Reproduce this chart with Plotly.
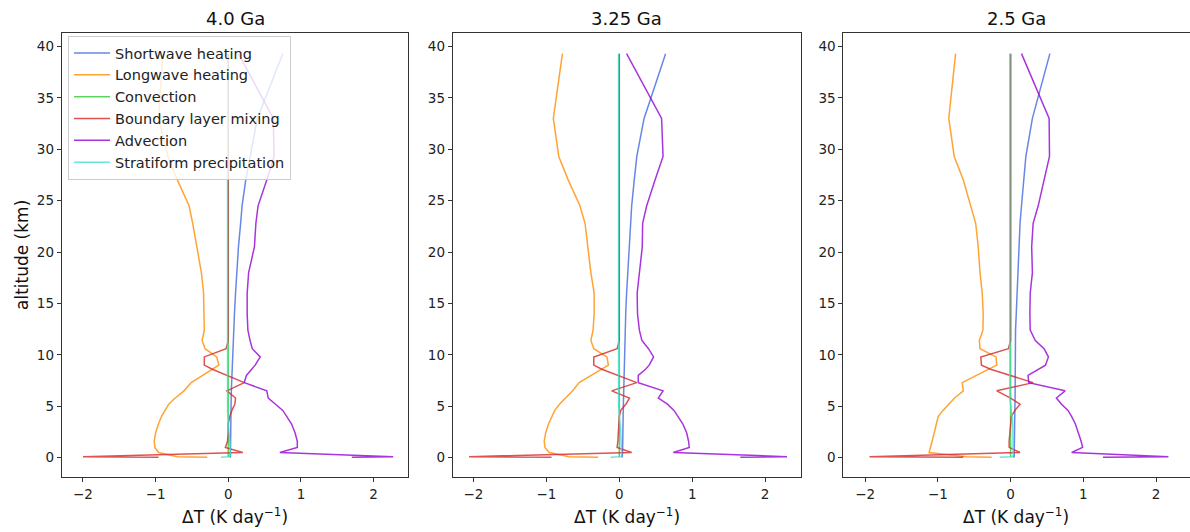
import plotly.graph_objects as go

# ---------------- data ----------------
altitude_km = [0.03, 0.1, 0.5, 1.0, 1.6, 2.4, 3.3, 4.0, 4.6, 5.2, 5.8, 6.5, 7.3, 8.0, 8.6,
               9.0, 9.8, 10.6, 11.4, 12.4, 14.0, 16.0, 18.0, 20.5, 22.8, 24.5, 27.0, 29.3,
               33.0, 39.3]

panel_titles = ["4.0 Ga", "3.25 Ga", "2.5 Ga"]
series_names = ["Shortwave heating", "Longwave heating", "Convection",
                "Boundary layer mixing", "Advection", "Stratiform precipitation"]

# 4.0 Ga
sw_40 = [0.02, 0.03, 0.03, 0.03, 0.03, 0.03, 0.032, 0.034, 0.036, 0.038, 0.04, 0.042, 0.046, 0.05,
         0.053, 0.055, 0.06, 0.064, 0.068, 0.073, 0.085, 0.10, 0.115, 0.14, 0.17, 0.19, 0.24,
         0.30, 0.40, 0.75]
lw_40 = [-0.29, -0.70, -0.96, -1.01, -1.02, -1.00, -0.96, -0.92, -0.87, -0.82, -0.73, -0.61,
         -0.51, -0.36, -0.22, -0.13, -0.16, -0.32, -0.36, -0.33, -0.335, -0.34, -0.37, -0.43,
         -0.49, -0.54, -0.70, -0.83, -0.96, -0.90]
conv_40 = [0.0] * 30
bl_40 = [-0.96, -2.00, 0.20, -0.04, -0.01, 0.0, 0.0, 0.02, 0.05, 0.09, 0.10, -0.02, 0.22, -0.03,
         -0.22, -0.33, -0.33, -0.03, 0.0, 0.0, 0.0, 0.0, 0.0, 0.0, 0.0, 0.0, 0.0, 0.0, 0.0, 0.0]
adv_40 = [1.70, 2.27, 0.71, 0.95, 0.95, 0.92, 0.87, 0.81, 0.75, 0.65, 0.55, 0.53, 0.22, 0.25,
          0.33, 0.37, 0.44, 0.33, 0.30, 0.27, 0.26, 0.26, 0.28, 0.36, 0.38, 0.41, 0.53, 0.63,
          0.62, 0.14]
strat_40 = [-0.10, 0.02, 0.03, 0.03, 0.02, 0.01, 0.0, -0.01, -0.01, -0.01, -0.01, -0.01, -0.01,
            -0.01, -0.01, -0.01, -0.01, -0.01, -0.01, -0.01, -0.01, -0.01, -0.01, -0.01, -0.01,
            -0.01, -0.01, -0.01, -0.01, -0.01]

# 3.25 Ga
sw_325 = [0.03, 0.04, 0.045, 0.045, 0.045, 0.05, 0.05, 0.052, 0.054, 0.056, 0.058, 0.06, 0.062,
          0.064, 0.066, 0.068, 0.07, 0.072, 0.074, 0.078, 0.088, 0.10, 0.115, 0.13, 0.155, 0.17,
          0.205, 0.24, 0.34, 0.635]
lw_325 = [-0.29, -0.69, -0.96, -1.02, -1.03, -1.01, -0.97, -0.92, -0.885, -0.82, -0.74, -0.64,
          -0.55, -0.38, -0.24, -0.15, -0.17, -0.35, -0.39, -0.36, -0.345, -0.345, -0.39, -0.43,
          -0.47, -0.54, -0.70, -0.83, -0.905, -0.78]
conv_325 = [0.0] * 30
bl_325 = [-0.93, -2.06, 0.17, -0.03, -0.02, -0.01, 0.0, 0.0, 0.02, 0.09, 0.14, -0.105, 0.24,
          -0.02, -0.24, -0.35, -0.35, -0.03, 0.0, 0.0, 0.0, 0.0, 0.0, 0.0, 0.0, 0.0, 0.0, 0.0,
          0.0, 0.0]
adv_325 = [1.66, 2.30, 0.74, 0.96, 0.95, 0.925, 0.87, 0.81, 0.75, 0.66, 0.535, 0.60, 0.26, 0.26,
           0.36, 0.41, 0.47, 0.40, 0.31, 0.275, 0.25, 0.245, 0.28, 0.315, 0.32, 0.376, 0.49,
           0.60, 0.58, 0.10]
strat_325 = [-0.12, 0.03, 0.03, 0.03, 0.03, 0.02, 0.01, 0.0, -0.01, -0.01, -0.01, -0.01, -0.01,
             -0.01, -0.01, -0.01, -0.01, -0.01, -0.01, -0.01, -0.01, -0.01, -0.01, -0.01, -0.01,
             -0.01, -0.01, -0.01, -0.01, -0.01]

# 2.5 Ga
sw_25 = [0.03, 0.05, 0.05, 0.05, 0.05, 0.052, 0.054, 0.056, 0.058, 0.06, 0.062, 0.062, 0.064,
         0.064, 0.065, 0.066, 0.066, 0.067, 0.068, 0.068, 0.078, 0.09, 0.10, 0.11, 0.13, 0.15,
         0.18, 0.21, 0.30, 0.54]
lw_25 = [-0.26, -0.61, -1.12, -1.10, -1.08, -1.05, -1.02, -0.995, -0.93, -0.85, -0.77, -0.65,
         -0.665, -0.47, -0.30, -0.19, -0.20, -0.42, -0.43, -0.38, -0.376, -0.39, -0.42, -0.445,
         -0.48, -0.545, -0.65, -0.775, -0.85, -0.756]
conv_25 = [0.0] * 30
bl_25 = [-0.65, -1.94, 0.13, -0.02, -0.02, -0.01, 0.0, 0.01, 0.06, 0.13, 0.0, -0.19, 0.31, -0.02,
         -0.275, -0.40, -0.41, -0.03, 0.0, 0.0, 0.0, 0.0, 0.0, 0.0, 0.0, 0.0, 0.0, 0.0, 0.0, 0.0]
adv_25 = [1.27, 2.17, 0.84, 0.99, 0.97, 0.93, 0.89, 0.84, 0.79, 0.70, 0.63, 0.75, 0.25, 0.24,
          0.39, 0.48, 0.52, 0.46, 0.34, 0.27, 0.265, 0.27, 0.30, 0.29, 0.31, 0.38, 0.46, 0.535,
          0.53, 0.15]
strat_25 = [-0.15, 0.035, 0.035, 0.035, 0.03, 0.03, 0.03, 0.02, 0.01, 0.0, -0.01, -0.01, -0.01,
            -0.01, -0.01, -0.01, -0.01, -0.01, -0.01, -0.01, -0.01, -0.01, -0.01, -0.01, -0.01,
            -0.01, -0.01, -0.01, -0.01, -0.01]

x_tick_values = [-2, -1, 0, 1, 2]
y_tick_values = [0, 5, 10, 15, 20, 25, 30, 35, 40]

# ---------------- styling ----------------
colors = ["rgba(65,105,225,0.8)", "rgba(255,140,0,0.8)", "rgba(50,205,50,0.8)",
          "rgba(214,39,40,0.8)", "rgba(148,0,211,0.8)", "rgba(64,224,208,0.8)"]

panels = [
    [sw_40, lw_40, conv_40, bl_40, adv_40, strat_40],
    [sw_325, lw_325, conv_325, bl_325, adv_325, strat_325],
    [sw_25, lw_25, conv_25, bl_25, adv_25, strat_25],
]

W, H = 1190, 532
x_px = [(61.7, 408.3), (452.7, 800.7), (843.3, 1189.5)]
x_ranges = [[-2.293, 2.478], [-2.285, 2.488], [-2.30, 2.46]]
y_px = (33.3, 477.3)
y_range = [-1.91, 41.28]
FONT = "DejaVu Sans"

fig = go.Figure()
for p, series in enumerate(panels):
    xa = "x" if p == 0 else f"x{p+1}"
    ya = "y" if p == 0 else f"y{p+1}"
    for s, vals in enumerate(series):
        fig.add_trace(go.Scatter(
            x=vals, y=altitude_km, mode="lines", name=series_names[s],
            line=dict(color=colors[s], width=1.5),
            xaxis=xa, yaxis=ya, legendgroup=series_names[s], showlegend=(p == 0),
            hoverinfo="skip"))

axis_common = dict(showline=True, mirror=True, linecolor="#333333", linewidth=1,
                   ticks="outside", ticklen=4, tickwidth=1, tickcolor="#333333",
                   showgrid=False, zeroline=False,
                   tickfont=dict(family=FONT, size=13.5, color="#222222"))

layout = {}
for p in range(3):
    l, r = x_px[p]
    xk = "xaxis" if p == 0 else f"xaxis{p+1}"
    yk = "yaxis" if p == 0 else f"yaxis{p+1}"
    layout[xk] = dict(axis_common, domain=[l / W, r / W], range=x_ranges[p],
                      tickvals=x_tick_values, anchor="y" if p == 0 else f"y{p+1}")
    layout[yk] = dict(axis_common, domain=[1 - y_px[1] / H, 1 - y_px[0] / H], range=y_range,
                      tickvals=y_tick_values, anchor="x" if p == 0 else f"x{p+1}")

annotations = []
for p in range(3):
    l, r = x_px[p]
    cx = (l + r) / 2 / W
    annotations.append(dict(text=panel_titles[p], x=cx, y=1 - 18 / H, xref="paper", yref="paper",
                            xanchor="center", yanchor="middle", showarrow=False,
                            font=dict(family=FONT, size=18, color="#111111")))
    annotations.append(dict(text="ΔT (K day<sup>−1</sup>)", x=cx, y=1 - 516 / H,
                            xref="paper", yref="paper", xanchor="center", yanchor="middle",
                            showarrow=False, font=dict(family=FONT, size=17, color="#111111")))
annotations.append(dict(text="altitude (km)", x=22 / W, y=1 - 255 / H, xref="paper", yref="paper",
                        xanchor="center", yanchor="middle", textangle=-90, showarrow=False,
                        font=dict(family=FONT, size=17, color="#111111")))

fig.update_layout(
    width=W, height=H, template="none",
    margin=dict(l=0, r=0, t=0, b=0),
    paper_bgcolor="white", plot_bgcolor="white",
    font=dict(family=FONT, color="#222222"),
    annotations=annotations,
    legend=dict(x=68 / W, y=1 - 36 / H, xanchor="left", yanchor="top",
                bgcolor="rgba(255,255,255,0.8)", bordercolor="#cccccc", borderwidth=1,
                itemwidth=36,
                font=dict(family=FONT, size=14.5, color="#222222"), tracegroupgap=0),
    **layout,
)

fig.write_html("out.html", config={"displayModeBar": False},
               post_script="document.body.style.margin='0px';")
